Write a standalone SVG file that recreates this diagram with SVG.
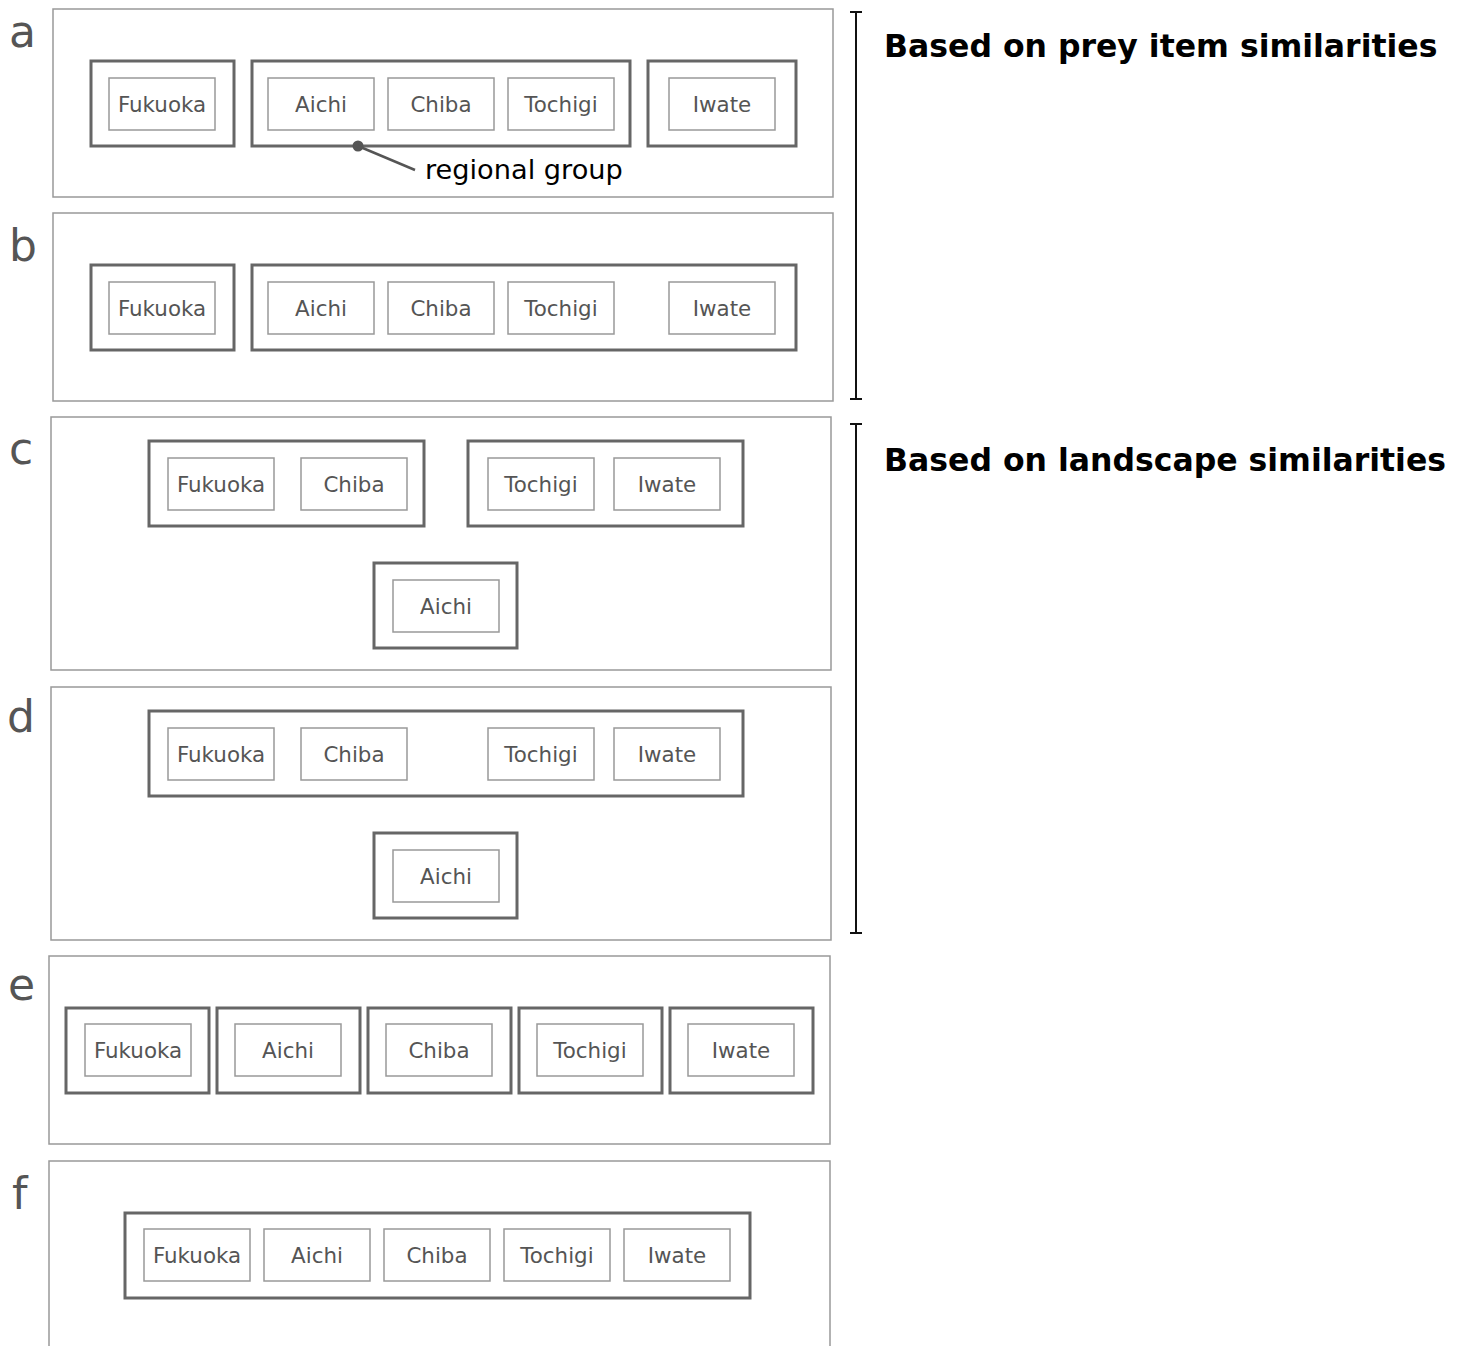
<svg xmlns="http://www.w3.org/2000/svg" width="1466" height="1346" viewBox="0 0 1466 1346">
<style>
.panel{fill:#fff;stroke:#999;stroke-width:1.5}
.grp{fill:none;stroke:#666;stroke-width:3}
.box{fill:#fff;stroke:#999;stroke-width:1.5}
.lbl{font-family:"DejaVu Sans",Verdana,sans-serif;font-size:21.4px;fill:#555;text-anchor:middle}
.let{font-family:"DejaVu Sans",Verdana,sans-serif;font-size:44px;fill:#555}
.ttl{font-family:"DejaVu Sans",Verdana,sans-serif;font-size:31.5px;font-weight:bold;fill:#000}
.brk{stroke:#111;stroke-width:2;fill:none}
</style>
<rect width="1466" height="1346" fill="#fff"/>
<g id="panel-a">
<rect class="panel" x="53" y="9" width="780" height="188"/>
<text class="let" x="9" y="47">a</text>
<rect class="grp" x="91" y="61" width="143" height="85"/>
<rect class="grp" x="252" y="61" width="378" height="85"/>
<rect class="grp" x="648" y="61" width="148" height="85"/>
<g id="a-fukuoka"><rect class="box" x="109" y="78" width="106" height="52"/><text class="lbl" x="162" y="112">Fukuoka</text></g>
<g id="a-aichi"><rect class="box" x="268" y="78" width="106" height="52"/><text class="lbl" x="321" y="112">Aichi</text></g>
<g id="a-chiba"><rect class="box" x="388" y="78" width="106" height="52"/><text class="lbl" x="441" y="112">Chiba</text></g>
<g id="a-tochigi"><rect class="box" x="508" y="78" width="106" height="52"/><text class="lbl" x="561" y="112">Tochigi</text></g>
<g id="a-iwate"><rect class="box" x="669" y="78" width="106" height="52"/><text class="lbl" x="722" y="112">Iwate</text></g>
</g>
<g id="connectors">
<circle cx="358" cy="146" r="5.5" fill="#555"/>
<line x1="358" y1="146" x2="415" y2="170" stroke="#555" stroke-width="2.5"/>
</g>
<text x="425" y="179" font-family="DejaVu Sans,Verdana,sans-serif" font-size="27.2" fill="#000">regional group</text>
<g id="panel-b">
<rect class="panel" x="53" y="213" width="780" height="188"/>
<text class="let" x="9" y="261">b</text>
<rect class="grp" x="91" y="265" width="143" height="85"/>
<rect class="grp" x="252" y="265" width="544" height="85"/>
<g id="b-fukuoka"><rect class="box" x="109" y="282" width="106" height="52"/><text class="lbl" x="162" y="316">Fukuoka</text></g>
<g id="b-aichi"><rect class="box" x="268" y="282" width="106" height="52"/><text class="lbl" x="321" y="316">Aichi</text></g>
<g id="b-chiba"><rect class="box" x="388" y="282" width="106" height="52"/><text class="lbl" x="441" y="316">Chiba</text></g>
<g id="b-tochigi"><rect class="box" x="508" y="282" width="106" height="52"/><text class="lbl" x="561" y="316">Tochigi</text></g>
<g id="b-iwate"><rect class="box" x="669" y="282" width="106" height="52"/><text class="lbl" x="722" y="316">Iwate</text></g>
</g>
<g id="bracket-prey">
<path class="brk" d="M850 12H862M856 12V399M850 399H862"/>
<text class="ttl" x="884" y="57">Based on prey item similarities</text>
</g>
<g id="panel-c">
<rect class="panel" x="51" y="417" width="780" height="253"/>
<text class="let" x="9" y="464">c</text>
<rect class="grp" x="149" y="441" width="275" height="85"/>
<rect class="grp" x="468" y="441" width="275" height="85"/>
<rect class="grp" x="374" y="563" width="143" height="85"/>
<g id="c-fukuoka"><rect class="box" x="168" y="458" width="106" height="52"/><text class="lbl" x="221" y="492">Fukuoka</text></g>
<g id="c-chiba"><rect class="box" x="301" y="458" width="106" height="52"/><text class="lbl" x="354" y="492">Chiba</text></g>
<g id="c-tochigi"><rect class="box" x="488" y="458" width="106" height="52"/><text class="lbl" x="541" y="492">Tochigi</text></g>
<g id="c-iwate"><rect class="box" x="614" y="458" width="106" height="52"/><text class="lbl" x="667" y="492">Iwate</text></g>
<g id="c-aichi"><rect class="box" x="393" y="580" width="106" height="52"/><text class="lbl" x="446" y="614">Aichi</text></g>
</g>
<g id="panel-d">
<rect class="panel" x="51" y="687" width="780" height="253"/>
<text class="let" x="7" y="732">d</text>
<rect class="grp" x="149" y="711" width="594" height="85"/>
<rect class="grp" x="374" y="833" width="143" height="85"/>
<g id="d-fukuoka"><rect class="box" x="168" y="728" width="106" height="52"/><text class="lbl" x="221" y="762">Fukuoka</text></g>
<g id="d-chiba"><rect class="box" x="301" y="728" width="106" height="52"/><text class="lbl" x="354" y="762">Chiba</text></g>
<g id="d-tochigi"><rect class="box" x="488" y="728" width="106" height="52"/><text class="lbl" x="541" y="762">Tochigi</text></g>
<g id="d-iwate"><rect class="box" x="614" y="728" width="106" height="52"/><text class="lbl" x="667" y="762">Iwate</text></g>
<g id="d-aichi"><rect class="box" x="393" y="850" width="106" height="52"/><text class="lbl" x="446" y="884">Aichi</text></g>
</g>
<g id="bracket-landscape">
<path class="brk" d="M850 424H862M856 424V933M850 933H862"/>
<text class="ttl" x="884" y="471">Based on landscape similarities</text>
</g>
<g id="panel-e">
<rect class="panel" x="49" y="956" width="781" height="188"/>
<text class="let" x="8" y="1000">e</text>
<rect class="grp" x="66" y="1008" width="143" height="85"/>
<rect class="grp" x="217" y="1008" width="143" height="85"/>
<rect class="grp" x="368" y="1008" width="143" height="85"/>
<rect class="grp" x="519" y="1008" width="143" height="85"/>
<rect class="grp" x="670" y="1008" width="143" height="85"/>
<g id="e-fukuoka"><rect class="box" x="85" y="1024" width="106" height="52"/><text class="lbl" x="138" y="1058" fill="#444">Fukuoka</text></g>
<g id="e-aichi"><rect class="box" x="235" y="1024" width="106" height="52"/><text class="lbl" x="288" y="1058">Aichi</text></g>
<g id="e-chiba"><rect class="box" x="386" y="1024" width="106" height="52"/><text class="lbl" x="439" y="1058">Chiba</text></g>
<g id="e-tochigi"><rect class="box" x="537" y="1024" width="106" height="52"/><text class="lbl" x="590" y="1058">Tochigi</text></g>
<g id="e-iwate"><rect class="box" x="688" y="1024" width="106" height="52"/><text class="lbl" x="741" y="1058">Iwate</text></g>
</g>
<g id="panel-f">
<rect class="panel" x="49" y="1161" width="781" height="200"/>
<text class="let" x="12" y="1209">f</text>
<rect class="grp" x="125" y="1213" width="625" height="85"/>
<g id="f-fukuoka"><rect class="box" x="144" y="1229" width="106" height="52"/><text class="lbl" x="197" y="1263">Fukuoka</text></g>
<g id="f-aichi"><rect class="box" x="264" y="1229" width="106" height="52"/><text class="lbl" x="317" y="1263">Aichi</text></g>
<g id="f-chiba"><rect class="box" x="384" y="1229" width="106" height="52"/><text class="lbl" x="437" y="1263">Chiba</text></g>
<g id="f-tochigi"><rect class="box" x="504" y="1229" width="106" height="52"/><text class="lbl" x="557" y="1263">Tochigi</text></g>
<g id="f-iwate"><rect class="box" x="624" y="1229" width="106" height="52"/><text class="lbl" x="677" y="1263">Iwate</text></g>
</g>
</svg>
